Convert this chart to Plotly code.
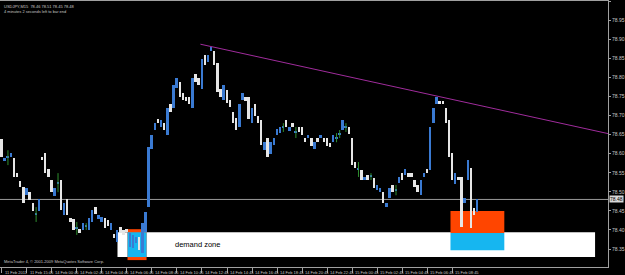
import plotly.graph_objects as go

# ---------------- data (USDJPY, M15) ----------------
opens = [78.638, 78.581, 78.589, 78.591, 78.588, 78.549, 78.528, 78.512, 78.491, 78.499,
         78.471, 78.440, 78.450, 78.591, 78.602, 78.560, 78.531, 78.489, 78.523, 78.531,
         78.439, 78.481, 78.431, 78.429, 78.403, 78.402, 78.400, 78.408, 78.400, 78.421,
         78.460, 78.429, 78.421, 78.431, 78.426, 78.400, 78.389, 78.368, 78.408, 78.400,
         78.402, 78.355, 78.353, 78.366, 78.381, 78.340, 78.394, 78.460, 78.612, 78.662,
         78.691, 78.670, 78.680, 78.649, 78.730, 78.719, 78.772, 78.788, 78.759, 78.748,
         78.748, 78.719, 78.809, 78.798, 78.769, 78.858, 78.840, 78.869, 78.869, 78.837,
         78.769, 78.740, 78.767, 78.740, 78.709, 78.693, 78.670, 78.740, 78.748, 78.748,
         78.680, 78.730, 78.699, 78.688, 78.609, 78.641, 78.599, 78.622, 78.649, 78.654,
         78.668, 78.688, 78.659, 78.680, 78.655, 78.670, 78.670, 78.641, 78.641, 78.641,
         78.612, 78.641, 78.641, 78.641, 78.641, 78.628, 78.630, 78.641, 78.651, 78.662,
         78.668, 78.670, 78.641, 78.578, 78.558, 78.557, 78.531, 78.544, 78.539, 78.536,
         78.504, 78.499, 78.499, 78.460, 78.484, 78.518, 78.504, 78.523, 78.549, 78.544,
         78.549, 78.549, 78.531, 78.518, 78.491, 78.539, 78.560, 78.557, 78.680, 78.730,
         78.738, 78.738, 78.719, 78.688, 78.602, 78.520, 78.539, 78.539, 78.471, 78.531,
         78.562, 78.457, 78.447]
highs = [78.638, 78.588, 78.609, 78.602, 78.588, 78.549, 78.528, 78.512, 78.510, 78.499,
         78.471, 78.460, 78.481, 78.591, 78.602, 78.560, 78.531, 78.510, 78.549, 78.531,
         78.471, 78.481, 78.431, 78.429, 78.421, 78.402, 78.418, 78.418, 78.431, 78.452,
         78.460, 78.439, 78.434, 78.431, 78.426, 78.418, 78.389, 78.400, 78.408, 78.400,
         78.402, 78.392, 78.387, 78.381, 78.381, 78.418, 78.447, 78.617, 78.649, 78.680,
         78.691, 78.688, 78.680, 78.719, 78.730, 78.780, 78.798, 78.788, 78.759, 78.748,
         78.748, 78.798, 78.809, 78.798, 78.848, 78.858, 78.858, 78.879, 78.869, 78.837,
         78.769, 78.780, 78.767, 78.740, 78.709, 78.693, 78.730, 78.759, 78.748, 78.748,
         78.719, 78.730, 78.699, 78.688, 78.630, 78.641, 78.630, 78.641, 78.664, 78.670,
         78.680, 78.688, 78.670, 78.680, 78.670, 78.670, 78.670, 78.641, 78.649, 78.641,
         78.630, 78.641, 78.649, 78.641, 78.641, 78.628, 78.649, 78.654, 78.662, 78.688,
         78.680, 78.670, 78.641, 78.578, 78.578, 78.557, 78.539, 78.544, 78.549, 78.536,
         78.518, 78.510, 78.499, 78.471, 78.510, 78.518, 78.518, 78.539, 78.549, 78.560,
         78.549, 78.549, 78.531, 78.518, 78.531, 78.549, 78.560, 78.670, 78.719, 78.748,
         78.738, 78.738, 78.719, 78.688, 78.602, 78.549, 78.539, 78.539, 78.484, 78.583,
         78.562, 78.457, 78.481]
lows = [78.591, 78.581, 78.570, 78.591, 78.539, 78.539, 78.512, 78.471, 78.491, 78.478,
        78.450, 78.421, 78.450, 78.583, 78.549, 78.539, 78.499, 78.489, 78.499, 78.452,
        78.439, 78.439, 78.421, 78.400, 78.387, 78.392, 78.400, 78.400, 78.400, 78.421,
        78.442, 78.429, 78.421, 78.405, 78.410, 78.400, 78.379, 78.368, 78.392, 78.387,
        78.394, 78.355, 78.353, 78.366, 78.347, 78.340, 78.394, 78.460, 78.612, 78.662,
        78.680, 78.670, 78.662, 78.649, 78.709, 78.719, 78.772, 78.748, 78.740, 78.738,
        78.730, 78.719, 78.788, 78.780, 78.769, 78.832, 78.840, 78.869, 78.832, 78.761,
        78.748, 78.740, 78.732, 78.722, 78.680, 78.662, 78.670, 78.740, 78.738, 78.691,
        78.680, 78.699, 78.680, 78.622, 78.609, 78.591, 78.599, 78.622, 78.649, 78.654,
        78.657, 78.670, 78.659, 78.670, 78.641, 78.657, 78.649, 78.630, 78.641, 78.620,
        78.612, 78.630, 78.641, 78.630, 78.620, 78.617, 78.630, 78.630, 78.641, 78.662,
        78.657, 78.651, 78.570, 78.562, 78.539, 78.531, 78.531, 78.531, 78.531, 78.510,
        78.504, 78.499, 78.471, 78.460, 78.484, 78.499, 78.491, 78.523, 78.531, 78.544,
        78.539, 78.539, 78.512, 78.499, 78.491, 78.539, 78.549, 78.557, 78.680, 78.730,
        78.730, 78.730, 78.680, 78.591, 78.531, 78.520, 78.531, 78.408, 78.471, 78.531,
        78.405, 78.439, 78.447]
closes = [78.591, 78.588, 78.590, 78.602, 78.539, 78.539, 78.512, 78.471, 78.510, 78.478,
          78.450, 78.441, 78.481, 78.583, 78.549, 78.539, 78.499, 78.510, 78.524, 78.452,
          78.471, 78.439, 78.421, 78.400, 78.404, 78.392, 78.418, 78.409, 78.431, 78.452,
          78.442, 78.439, 78.434, 78.405, 78.410, 78.418, 78.379, 78.400, 78.392, 78.387,
          78.394, 78.392, 78.387, 78.381, 78.347, 78.418, 78.447, 78.617, 78.649, 78.680,
          78.680, 78.688, 78.662, 78.719, 78.709, 78.780, 78.798, 78.748, 78.740, 78.738,
          78.730, 78.798, 78.788, 78.780, 78.848, 78.832, 78.858, 78.879, 78.832, 78.761,
          78.748, 78.780, 78.732, 78.722, 78.680, 78.662, 78.730, 78.759, 78.738, 78.691,
          78.719, 78.699, 78.680, 78.622, 78.630, 78.591, 78.630, 78.641, 78.664, 78.670,
          78.669, 78.670, 78.670, 78.670, 78.656, 78.657, 78.649, 78.630, 78.649, 78.620,
          78.630, 78.630, 78.649, 78.630, 78.620, 78.617, 78.649, 78.642, 78.652, 78.688,
          78.669, 78.651, 78.570, 78.562, 78.559, 78.531, 78.539, 78.531, 78.540, 78.510,
          78.518, 78.510, 78.471, 78.471, 78.510, 78.499, 78.505, 78.539, 78.531, 78.560,
          78.539, 78.539, 78.512, 78.499, 78.531, 78.549, 78.549, 78.670, 78.719, 78.748,
          78.730, 78.730, 78.680, 78.591, 78.531, 78.549, 78.531, 78.408, 78.484, 78.583,
          78.405, 78.439, 78.481]

tick_bars = [0, 8, 16, 24, 32, 40, 48, 56, 64, 72, 80, 88, 96, 104, 112, 120, 128, 136, 144]
tick_text = ["11 Feb 2011", "11 Feb 15:45", "14 Feb 00:45", "14 Feb 02:45", "14 Feb 04:45",
             "14 Feb 06:45", "14 Feb 08:45", "14 Feb 10:45", "14 Feb 12:45", "14 Feb 14:45",
             "14 Feb 16:45", "14 Feb 18:45", "14 Feb 20:45", "14 Feb 22:45", "15 Feb 00:45",
             "15 Feb 02:45", "15 Feb 04:45", "15 Feb 06:45", "15 Feb 08:45"]
price_ticks = [78.35, 78.40, 78.45, 78.50, 78.55, 78.60, 78.65, 78.70, 78.75, 78.80, 78.85, 78.90, 78.95, 79.00]

bid_price = 78.48
trend_pts_x = [63.5, 193.0]
trend_pts_y = [78.887, 78.654]
# zones: (x0, x1, y0, y1)
demand_rect = (37.0, 189.6, 78.329, 78.394)
left_orange = (40.2, 46.3, 78.321, 78.402)
left_blue = (40.2, 46.3, 78.329, 78.394)
right_orange = (143.4, 160.6, 78.392, 78.450)
right_blue = (143.4, 160.6, 78.347, 78.392)

# ---------------- figure ----------------
X_MIN, X_MAX = -0.54, 193.73
Y_MIN, Y_MAX = 78.3029, 79.0003

n = len(opens)
idx = list(range(n))
UP_BODY, DN_BODY = "#3a7ad2", "#e6e6e6"
UP_WICK, DN_WICK = "#2f8f2f", "#e6e6e6"

up_wx, up_wy, dn_wx, dn_wy = [], [], [], []
bases, heights, colors = [], [], []
for i in idx:
    o, h, l, c = opens[i], highs[i], lows[i], closes[i]
    up = c >= o
    lo_b, hi_b = min(o, c), max(o, c)
    segs = []
    if l < lo_b:
        segs.append((l, lo_b))
    if h > hi_b:
        segs.append((hi_b, h))
    for a, b in segs:
        if up:
            up_wx += [i, i, None]; up_wy += [a, b, None]
        else:
            dn_wx += [i, i, None]; dn_wy += [a, b, None]
    hgt = max(hi_b - lo_b, 0.0025)
    bases.append(lo_b)
    heights.append(hgt)
    colors.append(UP_BODY if up else DN_BODY)

fig = go.Figure()
fig.add_trace(go.Bar(x=idx, y=heights, base=bases, width=0.62,
                     marker=dict(color=colors, line=dict(width=0))))
fig.add_trace(go.Scatter(x=up_wx, y=up_wy, mode="lines", line=dict(color=UP_WICK, width=1),
                         hoverinfo="skip"))
fig.add_trace(go.Scatter(x=dn_wx, y=dn_wy, mode="lines", line=dict(color=DN_WICK, width=1),
                         hoverinfo="skip"))

shapes = []
def rect(r, color):
    return dict(type="rect", xref="x", yref="y", x0=r[0], x1=r[1], y0=r[2], y1=r[3],
                fillcolor=color, line=dict(width=0), layer="below")
shapes.append(rect(demand_rect, "#ffffff"))
shapes.append(rect(left_orange, "#ff4500"))
shapes.append(rect(left_blue, "#16b6f0"))
shapes.append(rect(right_orange, "#ff4500"))
shapes.append(rect(right_blue, "#16b6f0"))
shapes.append(dict(type="line", xref="paper", yref="y", x0=0, x1=1, y0=bid_price, y1=bid_price,
                   line=dict(color="#9a9a9a", width=1), layer="below"))
slope = (trend_pts_y[1] - trend_pts_y[0]) / (trend_pts_x[1] - trend_pts_x[0])
tx1 = X_MAX
ty1 = trend_pts_y[0] + slope * (tx1 - trend_pts_x[0])
shapes.append(dict(type="line", xref="x", yref="y", x0=trend_pts_x[0], y0=trend_pts_y[0],
                   x1=tx1, y1=ty1, line=dict(color="#a02c9c", width=1)))

FONT = "Liberation Sans"
ann = []
for b, t in zip(tick_bars, tick_text):
    ann.append(dict(x=b, y=0, xref="x", yref="paper", text=t, showarrow=False,
                    xanchor="left", yanchor="top", xshift=1, yshift=-1,
                    font=dict(family=FONT, size=4, color="#c8c8c8")))
ann.append(dict(x=0, y=1, xref="paper", yref="paper", text="USDJPY,M15  78.46 78.51 78.45 78.48",
                showarrow=False, xanchor="left", yanchor="top", xshift=2, yshift=-1,
                font=dict(family=FONT, size=4, color="#c8c8c8")))
ann.append(dict(x=0, y=1, xref="paper", yref="paper", text="4 minutes 2 seconds left to bar end",
                showarrow=False, xanchor="left", yanchor="top", xshift=2, yshift=-6,
                font=dict(family=FONT, size=4, color="#c8c8c8")))
ann.append(dict(x=0, y=0, xref="paper", yref="paper",
                text="MetaTrader 4, © 2001-2009 MetaQuotes Software Corp.",
                showarrow=False, xanchor="left", yanchor="bottom", xshift=2, yshift=1,
                font=dict(family=FONT, size=4, color="#c8c8c8")))
ann.append(dict(x=54.6, y=78.362, xref="x", yref="y", text="demand zone", showarrow=False,
                xanchor="left", yanchor="middle",
                font=dict(family=FONT, size=7.5, color="#000000")))
ann.append(dict(x=1, y=bid_price, xref="paper", yref="y", text=f"{bid_price:.2f}", showarrow=False,
                xanchor="left", yanchor="middle", xshift=1, bgcolor="#d8d8d8", borderpad=0,
                font=dict(family=FONT, size=5, color="#000000")))

fig.update_layout(
    width=625, height=275,
    margin=dict(l=0, r=15, t=1, b=8, pad=0),
    paper_bgcolor="#000000", plot_bgcolor="#000000",
    showlegend=False, bargap=0,
    shapes=shapes, annotations=ann,
    xaxis=dict(range=[X_MIN, X_MAX], showgrid=False, zeroline=False,
               tickvals=tick_bars, ticks="outside", ticklen=5, tickcolor="#a0a0a0",
               showticklabels=False, showline=True, linecolor="#a0a0a0", linewidth=1,
               mirror=True),
    yaxis=dict(range=[Y_MIN, Y_MAX], side="right", showgrid=False, zeroline=False,
               tickvals=price_ticks, ticktext=[f"{p:.2f}" for p in price_ticks],
               ticks="outside", ticklen=2, tickcolor="#a0a0a0",
               tickfont=dict(family=FONT, size=5, color="#c8c8c8"),
               showline=True, linecolor="#a0a0a0", linewidth=1),
)

fig.write_html("out.html")
